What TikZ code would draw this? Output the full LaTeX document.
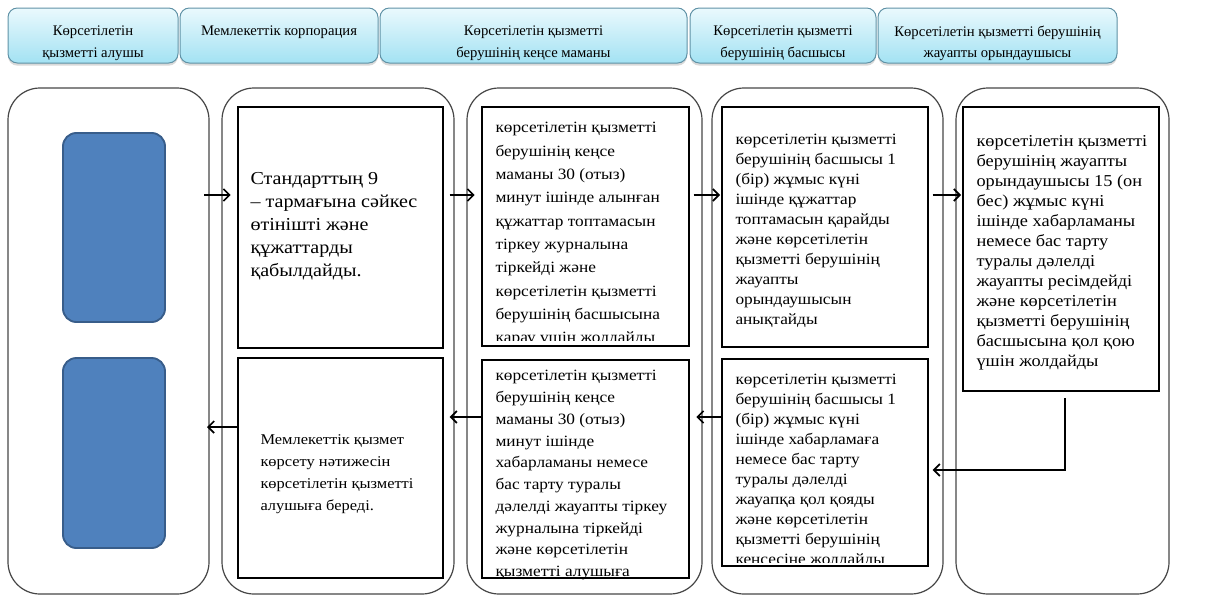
\documentclass[tikz,border=0pt]{standalone}
\usepackage{fontspec}
\setmainfont{Liberation Serif}
\newfontfamily\bodyfont[FakeStretch=1.1]{Liberation Serif}
\usetikzlibrary{arrows.meta,fit,shadows}

\definecolor{hdrtop}{RGB}{234,249,253}
\definecolor{hdrbot}{RGB}{163,226,243}
\definecolor{hdrline}{RGB}{96,146,166}
\definecolor{blkfill}{RGB}{79,129,189}
\definecolor{blkline}{RGB}{56,93,138}

\tikzset{every picture/.style={line width=0.75pt}}
\tikzset{
  lane/.style={draw={rgb,255:red,70;green,70;blue,70}, rounded corners=24pt, inner sep=0pt, line width=0.9pt},
  hdr/.style={draw=hdrline, rounded corners=7pt, inner sep=0pt, top color=hdrtop, bottom color=hdrbot,
    drop shadow={shadow xshift=0pt, shadow yshift=-2pt, opacity=0.3}},
  sblock/.style={draw=blkline, fill=blkfill, rounded corners=10pt, inner sep=0pt, line width=1.4pt},
  stepbox/.style={draw, fill=white, inner sep=0pt, line width=1pt},
  htxt/.style={anchor=north, inner sep=0pt, align=center, font={\fontsize{11}{16.5}\selectfont}},
  btxt/.style={anchor=north west, inner sep=0pt, align=left},
  flow/.style={-{Straight Barb[length=4.5pt,width=9pt]}, line width=1.25pt},
}

\begin{document}
\begin{tikzpicture}[x=0.75pt,y=0.75pt,yscale=-1,xscale=1]
\useasboundingbox (0,0) rectangle (1219,596);

%Header boxes
\node[hdr, fit={(8,8) (178,63)}] (h1) {};
\node[hdr, fit={(180,8) (378,63)}] (h2) {};
\node[hdr, fit={(380,8) (687,63)}] (h3) {};
\node[hdr, fit={(690,8) (876,63)}] (h4) {};
\node[hdr, fit={(878,8) (1117,63)}] (h5) {};
% Text Node
\node[htxt] (t1) at (93,25) {Көрсетілетін\\қызметті алушы};
\node[htxt] (t2) at (279,25) {Мемлекеттік корпорация};
\node[htxt] (t3) at (533.5,25) {Көрсетілетін қызметті\\берушінің кеңсе маманы};
\node[htxt] (t4) at (783,25) {Көрсетілетін қызметті\\берушінің басшысы};
\node[htxt] (t5) at (997.5,25) {Көрсетілетін қызметті берушінің\\жауапты орындаушысы};

%Lanes
\node[lane, fit={(8,88) (209,594)}] (L1) {};
\node[lane, fit={(222,88) (454,594)}] (L2) {};
\node[lane, fit={(467,88) (702,594)}] (L3) {};
\node[lane, fit={(712,88) (943,594)}] (L4) {};
\node[lane, fit={(956,88) (1169,594)}] (L5) {};

%Shape: Rounded Rectangle
\node[sblock, fit={(63,133) (165,322)}] (in) {};
\node[sblock, fit={(63,358) (165,548)}] (out) {};

%Shape: Rectangle
\node[stepbox, fit={(238,107) (443,348)}] (b2t) {};
\node[stepbox, fit={(238,358) (443,578)}] (b2b) {};
\node[stepbox, fit={(482,107) (689,346)}] (b3t) {};
\node[stepbox, fit={(482,360) (689,578)}] (b3b) {};
\node[stepbox, fit={(722,107) (928,347)}] (b4t) {};
\node[stepbox, fit={(722,359) (928,566)}] (b4b) {};
\node[stepbox, fit={(963,107) (1159,391)}] (b5) {};

% Text Node
\node[btxt, font={\bodyfont\fontsize{13.7}{17.25}\selectfont}] (s2t) at (250,172) {Стандарттың 9\\– тармағына сәйкес\\өтінішті және\\құжаттарды\\қабылдайды.};
\node[btxt, font={\bodyfont\fontsize{11.2}{16.5}\selectfont}] (s2b) at (260,434) {Мемлекеттік қызмет\\көрсету нәтижесін\\көрсетілетін қызметті\\алушыға береді.};
\begin{scope}
\clip (482,107) rectangle (689,340);
\node[btxt, font={\bodyfont\fontsize{11.8}{17.5}\selectfont}] (s3t) at (495,122) {көрсетілетін қызметті\\берушінің кеңсе\\маманы 30 (отыз)\\минут ішінде  алынған\\құжаттар топтамасын\\тіркеу журналына\\тіркейді және\\көрсетілетін қызметті\\берушінің басшысына\\қарау үшін жолдайды};
\end{scope}
\node[btxt, font={\bodyfont\fontsize{11.8}{16.3}\selectfont}] (s3b) at (495,370) {көрсетілетін қызметті\\берушінің кеңсе\\маманы 30 (отыз)\\минут ішінде\\хабарламаны немесе\\бас тарту туралы\\дәлелді жауапты тіркеу\\журналына тіркейді\\және көрсетілетін\\қызметті алушыға};
\node[btxt, font={\bodyfont\fontsize{11.8}{15}\selectfont}] (s4t) at (735,134) {көрсетілетін қызметті\\берушінің басшысы 1\\(бір) жұмыс күні\\ішінде құжаттар\\топтамасын қарайды\\және көрсетілетін\\қызметті берушінің\\жауапты\\орындаушысын\\анықтайды};
\begin{scope}
\clip (722,359) rectangle (928,562);
\node[btxt, font={\bodyfont\fontsize{11.8}{15}\selectfont}] (s4b) at (735,374) {көрсетілетін қызметті\\берушінің басшысы 1\\(бір) жұмыс күні\\ішінде хабарламаға\\немесе бас тарту\\туралы дәлелді\\жауапқа қол қояды\\және көрсетілетін\\қызметті берушінің\\кеңсесіне жолдайды};
\end{scope}
\node[btxt, font={\bodyfont\fontsize{12.5}{15}\selectfont}] (s5) at (976,135) {көрсетілетін қызметті\\берушінің жауапты\\орындаушысы 15 (он\\бес) жұмыс күні\\ішінде хабарламаны\\немесе бас тарту\\туралы дәлелді\\жауапты ресімдейді\\және көрсетілетін\\қызметті берушінің\\басшысына қол қою\\үшін жолдайды};

%Straight Lines
\coordinate (rowa) at (0,195);
\coordinate (rowb) at (0,417);
\coordinate (p1) at (204,195);
\coordinate (p5) at (1065,470);
\coordinate (p8) at (207,427);
\draw[flow, shorten >=5pt] (p1) -- (p1 -| b2t.west);
\draw[flow, shorten <=4.5pt, shorten >=5pt] (b2t.east |- rowa) -- (b3t.west |- rowa);
\draw[flow, shorten <=3pt, shorten >=1pt] (b3t.east |- rowa) -- (b4t.west |- rowa);
\draw[flow, shorten <=3pt, shorten >=1pt] (b4t.east |- rowa) -- (b5.west |- rowa);
\draw[flow, shorten <=5pt, shorten >=3pt] (b5.south -| p5) -- (p5) -- (p5 -| b4b.east);
\draw[flow, shorten >=5pt] (b4b.west |- rowb) -- (b3b.east |- rowb);
\draw[flow, shorten >=4.5pt] (b3b.west |- rowb) -- (b2b.east |- rowb);
\draw[flow] (b2b.west |- p8) -- (p8);

\end{tikzpicture}
\end{document}
